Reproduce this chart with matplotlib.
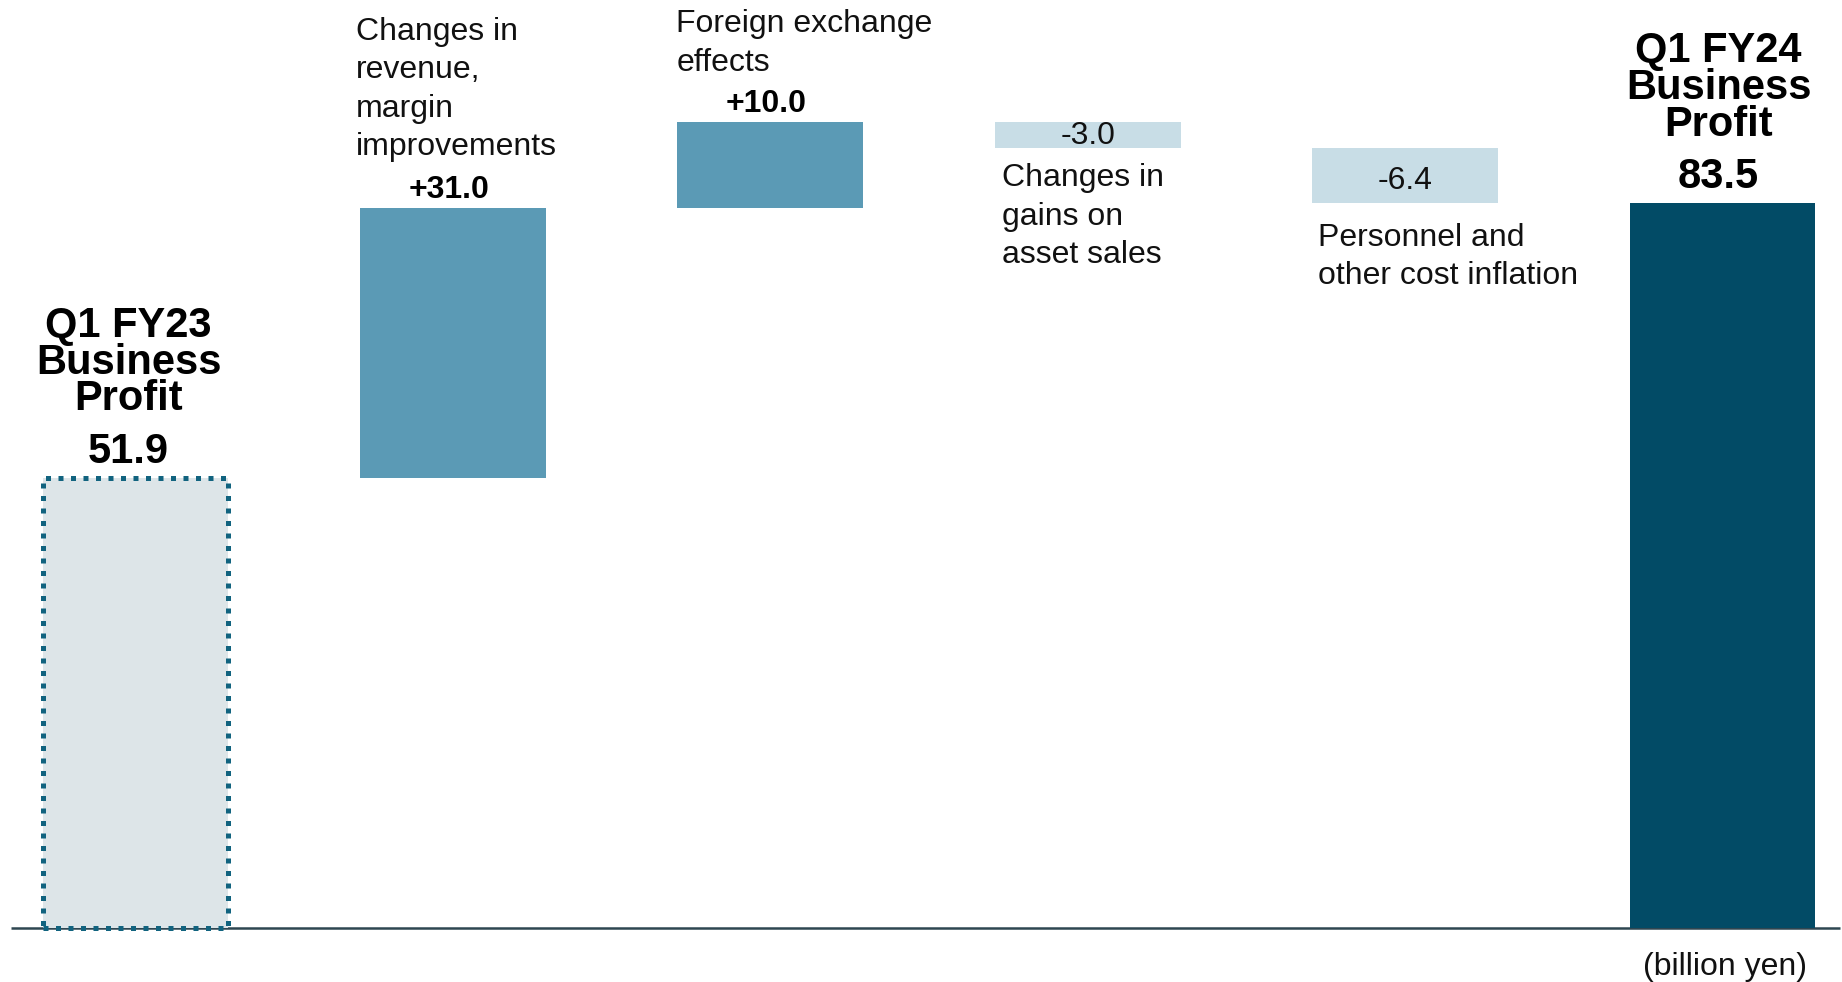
import matplotlib
matplotlib.use("Agg")
import matplotlib.pyplot as plt
from matplotlib.patches import Rectangle

plt.rcParams['font.family'] = ['Liberation Sans', 'DejaVu Sans']

# ---- data ----
start_label = "Q1 FY23\nBusiness\nProfit"
end_label = "Q1 FY24\nBusiness\nProfit"
start_value = 51.9
end_value = 83.5
step_labels = ["Changes in\nrevenue,\nmargin\nimprovements",
               "Foreign exchange\neffects",
               "Changes in\ngains on\nasset sales",
               "Personnel and\nother cost inflation"]
step_values = [31.0, 10.0, -3.0, -6.4]
step_texts = ["+31.0", "+10.0", "-3.0", "-6.4"]
unit_label = "(billion yen)"

# ---- style ----
C_START_FILL = "#DDE5E8"
C_START_EDGE = "#11637F"
C_POS = "#5B9AB5"
C_NEG = "#C8DDE6"
C_END = "#024B66"
C_AXIS = "#2E4651"

W, H = 1842, 982
fig = plt.figure(figsize=(W / 100, H / 100), dpi=100)
ax = fig.add_axes([0, 0, 1, 1])
ppu = 8.68            # pixels per unit
step_px = 317.4
x0_px = 135.5
ax.set_xlim(-x0_px / step_px, (W - x0_px) / step_px)
ax.set_ylim(-54 / ppu, (H - 54) / ppu)
ax.axis('off')

bw = 0.585
n = len(step_values) + 2
xs = list(range(n))

# baseline
ax.plot([-x0_px / step_px + 11 / step_px, (W - x0_px) / step_px - 2 / step_px], [0, 0],
        color=C_AXIS, lw=1.8, zorder=1, solid_capstyle='butt')

# start bar
ax.bar(xs[0], start_value, width=bw, color=C_START_FILL, zorder=2)
ax.add_patch(Rectangle((xs[0] - bw / 2, 0), bw, start_value, fill=False,
                       edgecolor=C_START_EDGE, lw=3.6, linestyle=(0, (1, 1.5)),
                       capstyle='butt', zorder=3))

# steps
running = start_value
bottoms, tops = [], []
for i, v in enumerate(step_values):
    b = running if v >= 0 else running + v
    ax.bar(xs[i + 1], abs(v), bottom=b, width=bw,
           color=C_POS if v >= 0 else C_NEG, zorder=2)
    bottoms.append(b)
    tops.append(b + abs(v))
    running += v

# end bar
ax.bar(xs[-1], end_value, width=bw, color=C_END, zorder=2)

bold = dict(fontweight='bold', color='black')
reg = dict(color='#111111')
LS = 1.36

def ann(text, x, y, dx, dy, **kw):
    ax.annotate(text, (x, y), xytext=(dx, dy), textcoords='offset pixels', **kw)

# start labels
ann(start_label, xs[0], start_value, -7, 115, ha='center', va='center', fontsize=30,
    linespacing=0.9, **bold)
ann(f"{start_value:.1f}", xs[0], start_value, -7, 26, ha='center', va='center', fontsize=30, **bold)

# end labels
ann(end_label, xs[-1], end_value, -4, 115, ha='center', va='center', fontsize=30,
    linespacing=0.9, **bold)
ann(f"{end_value:.1f}", xs[-1], end_value, -4, 26, ha='center', va='center', fontsize=30, **bold)

# step labels
left = [x - bw / 2 for x in xs[1:-1]]
# +31.0
ann(step_texts[0], xs[1], tops[0], -4, 18, ha='center', va='center', fontsize=23, **bold)
ann(step_labels[0], left[0], tops[0], -4, 119, ha='left', va='center', fontsize=23,
    linespacing=LS, **reg)
# +10.0
ann(step_texts[1], xs[2], tops[1], -4, 18, ha='center', va='center', fontsize=23, **bold)
ann(step_labels[1], left[1], tops[1], -1, 78, ha='left', va='center', fontsize=23,
    linespacing=LS, **reg)
# -3.0
ann(step_texts[2], xs[3], (tops[2] + bottoms[2]) / 2, 0, -1, ha='center', va='center',
    fontsize=23, **reg)
ann(step_labels[2], left[2], bottoms[2], 7, -69, ha='left', va='center', fontsize=23,
    linespacing=LS, **reg)
# -6.4
ann(step_texts[3], xs[4], (tops[3] + bottoms[3]) / 2, 0, -6, ha='center', va='center',
    fontsize=23, **reg)
ann(step_labels[3], left[3], bottoms[3], 6, -54, ha='left', va='center', fontsize=23,
    linespacing=LS, **reg)

# unit
ann(unit_label, xs[-1], 0, 2, -39, ha='center', va='center', fontsize=23, **reg)

fig.savefig("out.png", dpi=100, facecolor='white')
